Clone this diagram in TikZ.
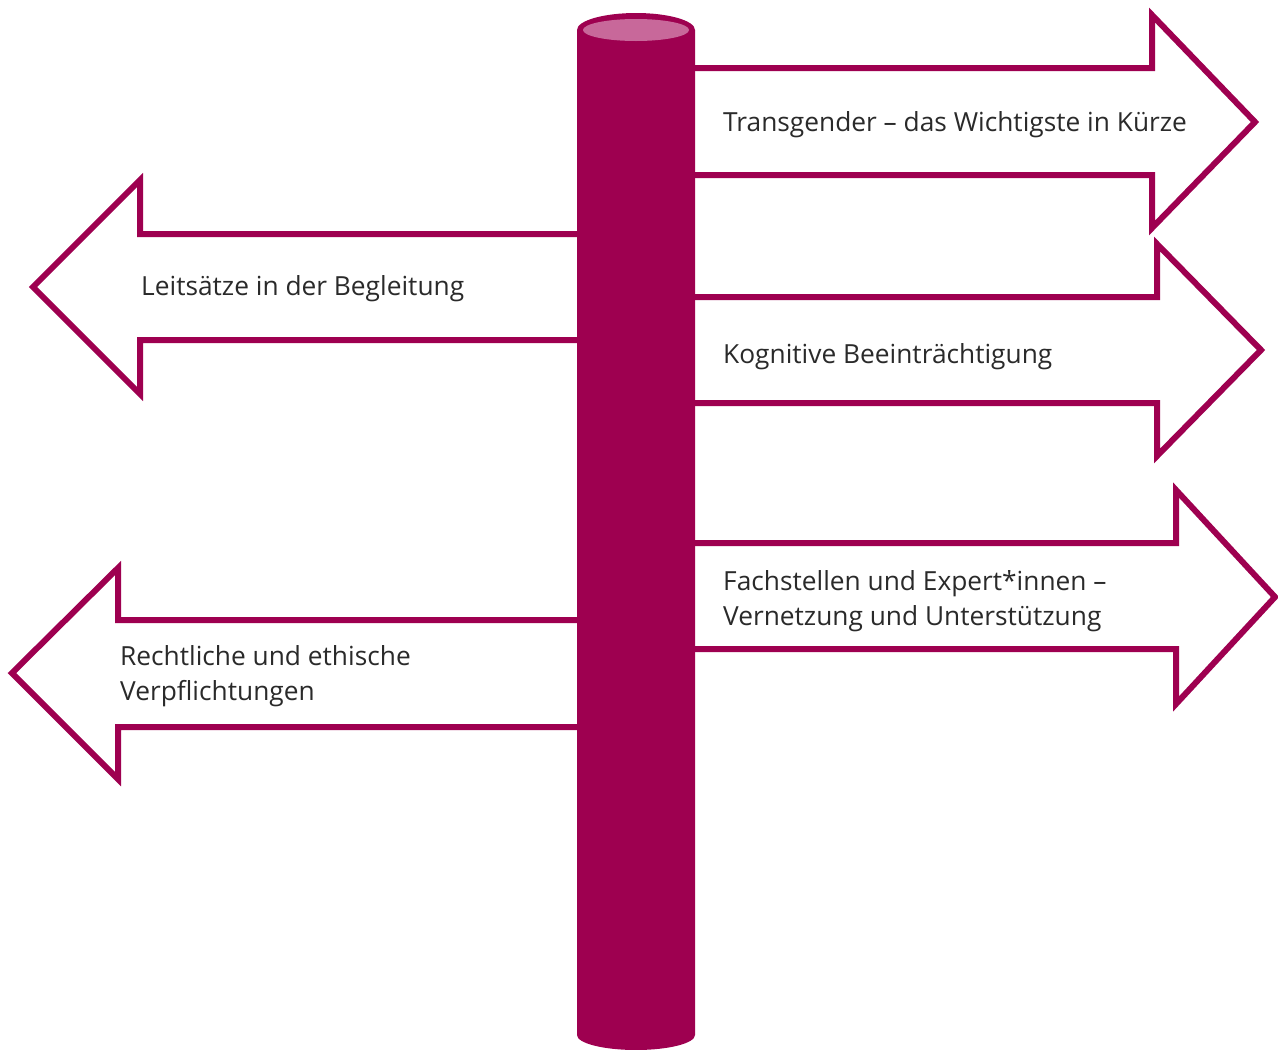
\documentclass[tikz,border=0pt]{standalone}
\usepackage{fontspec}
\setmainfont{Open Sans}
\definecolor{plum}{HTML}{9E0050}
\definecolor{plumlight}{HTML}{C8689A}
\definecolor{txt}{HTML}{2A2A2A}
\begin{document}
\begin{tikzpicture}[x=1pt,y=-1pt,
  sign/.style={draw=plum,line width=6pt,fill=white,line join=miter},
  lbl/.style={anchor=west,align=left,text=txt,font=\fontsize{26.3}{35}\selectfont,inner sep=0pt}]
\useasboundingbox (0,0) rectangle (1278,1050);
% right arrows
\draw[sign] (695,68) -- (1152,68) -- (1152,15) -- (1255,122) -- (1152,228) -- (1152,175) -- (695,175);
\draw[sign] (695,297) -- (1157,297) -- (1157,244) -- (1261,350) -- (1157,456) -- (1157,403) -- (695,403);
\draw[sign] (695,543) -- (1176,543) -- (1176,490) -- (1275,597) -- (1176,704) -- (1176,649) -- (695,649);
% left arrows
\draw[sign] (577,234) -- (140,234) -- (140,180) -- (33,287) -- (140,394) -- (140,340) -- (577,340);
\draw[sign] (577,620) -- (118,620) -- (118,568) -- (12,673) -- (118,779) -- (118,727) -- (577,727);
% pole
\fill[plum] (577,30) -- (577,1035) arc[start angle=180,end angle=0,x radius=59,y radius=15] -- (695,30) -- cycle;
\fill[plum] (636,30) ellipse[x radius=59,y radius=17];
\fill[plumlight] (636,30) ellipse[x radius=53,y radius=11];
% labels
\node[lbl] (t1) at (723,125) {Transgender – das Wichtigste in Kürze};
\node[lbl] (t2) at (141,289) {Leitsätze in der Begleitung};
\node[lbl] (t3) at (723,357) {Kognitive Beeinträchtigung};
\node[lbl] (t4) at (723,601) {Fachstellen und Expert*innen –\\Vernetzung und Unterstützung};
\node[lbl] (t5) at (120,676) {Rechtliche und ethische\\Verpflichtungen};
\end{tikzpicture}
\end{document}
